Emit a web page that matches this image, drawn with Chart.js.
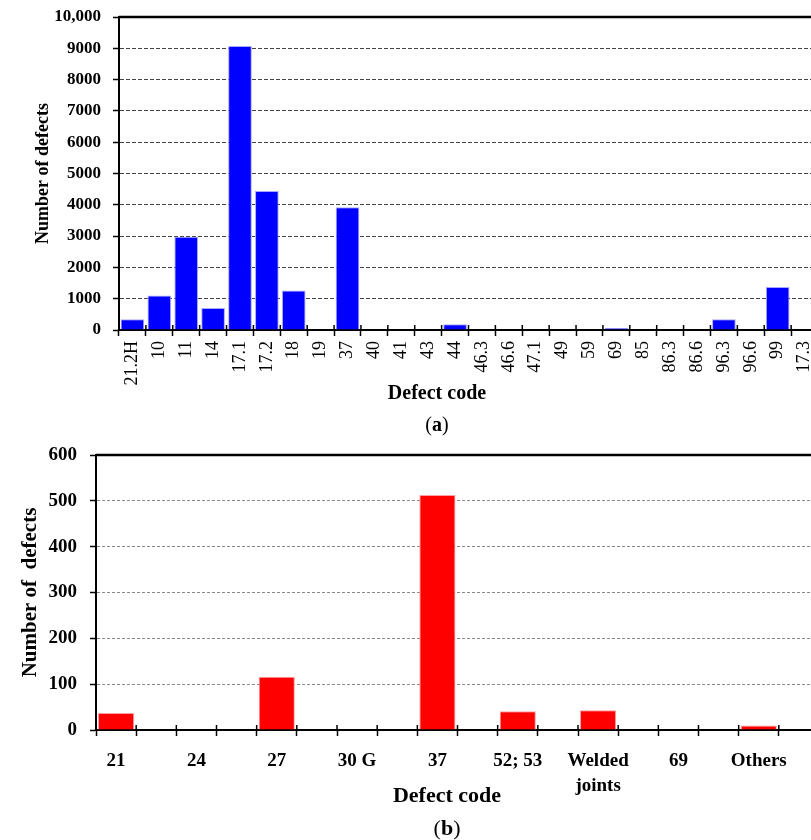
<!DOCTYPE html>
<html><head><meta charset="utf-8">
<script src="https://cdn.jsdelivr.net/npm/chart.js@4"></script>
<style>
html,body{margin:0;padding:0;background:#fff;overflow:hidden;width:811px;height:840px;}
#wrap{position:relative;width:811px;height:840px;overflow:hidden;}
canvas{position:absolute;left:0;}
.lbl{position:absolute;font-family:"Liberation Serif",serif;color:#000;white-space:nowrap;transform:translate(-50%,-50%);}
</style></head><body>
<div id="wrap">
<canvas id="ca" width="840" height="440" style="top:0"></canvas>
<canvas id="cb" width="840" height="400" style="top:440px"></canvas>
<div class="lbl" style="left:437px;top:392px;font-size:20px;font-weight:bold">Defect code</div>
<div class="lbl" style="left:437px;top:424px;font-size:20px">(<b>a</b>)</div>
<div class="lbl" style="left:447px;top:795px;font-size:22px;font-weight:bold">Defect code</div>
<div class="lbl" style="left:447px;top:828px;font-size:22px">(<b>b</b>)</div>
</div>
<script>
// ---- Panel (a) data ----
const categoriesA = ['21.2H','10','11','14','17.1','17.2','18','19','37','40','41','43','44','46.3','46.6','47.1','49','59','69','85','86.3','86.6','96.3','96.6','99','17.3'];
const defectsA = [340,1100,2980,700,9070,4440,1260,0,3920,0,0,0,180,0,0,0,0,0,60,0,0,0,340,0,1370,0];
const yTicksA = ['0','1000','2000','3000','4000','5000','6000','7000','8000','9000','10,000'];

// ---- Panel (b) data ----
const categoriesB = ['21','24','27','30 G','37','52; 53',['Welded','joints'],'69','Others'];
const defectsB = [37,0,116,0,513,41,43,0,10];
const yTicksB = ['0','100','200','300','400','500','600'];

// each category of (b) occupies two slots on the axis (label slot + empty slot)
const labelsB = [], dataB = [];
categoriesB.forEach((c,i)=>{ labelsB.push(c,''); dataB.push(defectsB[i], null); });

Chart.defaults.font.family = '"Liberation Serif", serif';
Chart.defaults.color = '#000';

const frame = {
  id:'frame',
  afterDraw(chart){
    const {ctx, chartArea:a, scales:{x}} = chart;
    ctx.save();
    ctx.strokeStyle = '#000';
    ctx.lineWidth = 2.5;
    ctx.beginPath(); ctx.moveTo(a.left, a.top); ctx.lineTo(a.right + 2, a.top); ctx.stroke();
    const n = x.ticks.length, w = (x.right - x.left) / n;
    ctx.lineWidth = 1.5;
    ctx.beginPath();
    for (let i = 0; i <= n; i++) { const px = x.left + i*w; ctx.moveTo(px, a.bottom - 5); ctx.lineTo(px, a.bottom); }
    ctx.stroke();
    ctx.restore();
  }
};

new Chart(document.getElementById('ca'), {
  type:'bar',
  data:{labels:categoriesA, datasets:[{data:defectsA, backgroundColor:'#0000ff', borderColor:'#a8a8ff',
    borderWidth:c=>c.raw>0?1:0, barPercentage:0.88, categoryPercentage:1}]},
  options:{
    responsive:false, animation:false, devicePixelRatio:1,
    layout:{padding:{top:17,right:22,left:0,bottom:0}},
    plugins:{legend:{display:false}, tooltip:{enabled:false}},
    scales:{
      x:{
        ticks:{autoSkip:false, maxRotation:90, minRotation:90, padding:5, font:{size:18}},
        grid:{display:true, drawOnChartArea:false, drawTicks:true, tickLength:6, tickColor:'#000', tickWidth:1.5, offset:true},
        border:{display:true, color:'#000', width:2},
        afterFit(s){ s.height = 110; s.paddingLeft = 0; s.paddingRight = 0; }
      },
      y:{
        min:0, max:10000,
        ticks:{stepSize:1000, padding:12, font:{size:17, weight:'bold'}, callback:(v,i)=>yTicksA[i]},
        grid:{color:'#444', lineWidth:1, tickColor:'#000', tickLength:6, tickWidth:1.5},
        border:{color:'#000', width:2, dash:[4,2]},
        title:{display:true, text:'Number of defects', font:{size:18, weight:'bold'}, padding:{top:33,bottom:0}},
        afterFit(s){ s.width = 119; s.paddingTop = 0; s.paddingBottom = 0; }
      }
    }
  },
  plugins:[frame]
});

new Chart(document.getElementById('cb'), {
  type:'bar',
  data:{labels:labelsB, datasets:[{data:dataB, backgroundColor:'#ff0000', borderColor:'#ffa0a0',
    borderWidth:c=>c.raw>0?1:0, barPercentage:0.9, categoryPercentage:1}]},
  options:{
    responsive:false, animation:false, devicePixelRatio:1,
    layout:{padding:{top:15,right:21,left:0,bottom:0}},
    plugins:{legend:{display:false}, tooltip:{enabled:false}},
    scales:{
      x:{
        ticks:{autoSkip:false, maxRotation:0, minRotation:0, padding:12, font:{size:19, weight:'bold', lineHeight:1.35}},
        grid:{display:true, drawOnChartArea:false, drawTicks:true, tickLength:6, tickColor:'#000', tickWidth:1.5, offset:true},
        border:{display:true, color:'#000', width:2},
        afterFit(s){ s.height = 110; s.paddingLeft = 0; s.paddingRight = 0; }
      },
      y:{
        min:0, max:600,
        ticks:{stepSize:100, padding:13, font:{size:19, weight:'bold'}, callback:(v,i)=>yTicksB[i]},
        grid:{color:'#888', lineWidth:1, tickColor:'#000', tickLength:6, tickWidth:1.5},
        border:{color:'#000', width:2, dash:[3,2]},
        title:{display:true, text:'Number of  defects', font:{size:21, weight:'bold'}, padding:{top:18,bottom:0}},
        afterFit(s){ s.width = 96; s.paddingTop = 0; s.paddingBottom = 0; }
      }
    }
  },
  plugins:[frame]
});
</script>
</body></html>
